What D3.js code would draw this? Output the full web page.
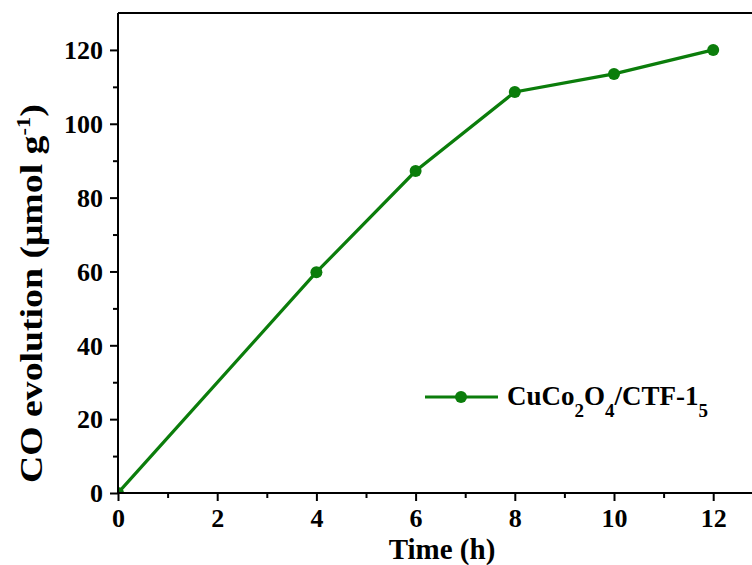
<!DOCTYPE html>
<html>
<head>
<meta charset="utf-8">
<script src="https://cdn.jsdelivr.net/npm/d3@7"></script>
<style>
  body { margin: 0; background: #fff; }
  text { font-family: "Liberation Serif", "Times New Roman", serif; font-weight: bold; }
  .axis text { font-size: 26px; }
</style>
</head>
<body>
<svg id="chart"></svg>
<script>
// CO evolution over time
const times = [0, 4, 6, 8, 10, 12];
const coValues = [0, 59.8, 87.2, 108.6, 113.5, 120];
const xTicks = [0, 2, 4, 6, 8, 10, 12];
const xMinor = [1, 3, 5, 7, 9, 11];
const yTicks = [0, 20, 40, 60, 80, 100, 120];
const yMinor = [10, 30, 50, 70, 90, 110];

const width = 752, height = 565;
const margin = { left: 118, top: 13, bottom: 72 };
const green = '#0b7d0b';

const svg = d3.select('#chart')
    .attr('width', width)
    .attr('height', height);

// scales
const x = d3.scaleLinear().domain([0, 13]).range([margin.left, margin.left + 13 * 49.6]);
const y = d3.scaleLinear().domain([0, 130]).range([height - margin.bottom, margin.top]);

// clip marks to plot area
svg.append('clipPath').attr('id', 'plot')
    .append('rect')
    .attr('x', x(0)).attr('y', y(130))
    .attr('width', x(13) - x(0)).attr('height', y(0) - y(130));

// data line
const line = d3.line()
    .x((d, i) => x(times[i]))
    .y(d => y(d));

const marks = svg.append('g').attr('clip-path', 'url(#plot)');
marks.append('path')
    .datum(coValues)
    .attr('fill', 'none')
    .attr('stroke', green)
    .attr('stroke-width', 3.2)
    .attr('d', line);

marks.selectAll('.dot')
    .data(coValues)
    .enter()
    .append('circle')
    .attr('class', 'dot')
    .attr('cx', (d, i) => x(times[i]))
    .attr('cy', d => y(d))
    .attr('r', 6)
    .attr('fill', green);

// x axis (major + minor ticks)
const xAxis = svg.append('g')
    .attr('class', 'axis')
    .attr('transform', `translate(0,${y(0)})`)
    .call(d3.axisBottom(x).tickValues(xTicks).tickSize(8).tickPadding(8).tickSizeOuter(0));
svg.append('g')
    .attr('transform', `translate(0,${y(0)})`)
    .call(d3.axisBottom(x).tickValues(xMinor).tickSize(5).tickFormat('').tickSizeOuter(0))
    .select('.domain').remove();

// y axis
const yAxis = svg.append('g')
    .attr('class', 'axis')
    .attr('transform', `translate(${x(0)},0)`)
    .call(d3.axisLeft(y).tickValues(yTicks).tickSize(8).tickPadding(7).tickSizeOuter(0));
svg.append('g')
    .attr('transform', `translate(${x(0)},0)`)
    .call(d3.axisLeft(y).tickValues(yMinor).tickSize(5).tickFormat('').tickSizeOuter(0))
    .select('.domain').remove();

xAxis.attr('font-size', 26).attr('font-family', null);
yAxis.attr('font-size', 26).attr('font-family', null);

// top frame line
svg.append('line')
    .attr('x1', x(0)).attr('x2', x(13))
    .attr('y1', y(130)).attr('y2', y(130))
    .attr('stroke', '#000').attr('stroke-width', 2);

svg.selectAll('.domain').attr('stroke-width', 2);
svg.selectAll('.tick line').attr('stroke-width', 2);
svg.selectAll('.axis .tick text').attr('fill', '#000');
yAxis.selectAll('.tick text').attr('dy', '0.34em');
yAxis.select('.domain').attr('d', `M0,${y(0)}V${y(130)}`);
xAxis.select('.domain').attr('d', `M${x(0)},0H${x(13)}`);

// legend
const legend = svg.append('g').attr('transform', 'translate(425,397)');
legend.append('line')
    .attr('x1', 0).attr('x2', 73)
    .attr('stroke', green).attr('stroke-width', 3.2);
legend.append('circle')
    .attr('cx', 36).attr('r', 6).attr('fill', green);
const lt = legend.append('text')
    .attr('x', 82).attr('y', 8)
    .style('font-size', '27px');
lt.append('tspan').text('CuCo');
lt.append('tspan').text('2').attr('dy', 12).style('font-size', '19px');
lt.append('tspan').text('O').attr('dy', -12);
lt.append('tspan').text('4').attr('dy', 12).style('font-size', '19px');
lt.append('tspan').text('/CTF-1').attr('dy', -12);
lt.append('tspan').text('5').attr('dy', 12).style('font-size', '19px');

// axis titles
svg.append('text')
    .attr('x', 442).attr('y', 559)
    .attr('text-anchor', 'middle')
    .style('font-size', '29px')
    .text('Time (h)');

const yt = svg.append('text')
    .attr('transform', `translate(42,483) rotate(-90) scale(1.18,1)`)
    .attr('text-anchor', 'start')
    .style('font-size', '32px');
yt.append('tspan').text('CO evolution (\u03bcmol g');
yt.append('tspan').text('-1').attr('dy', -12).style('font-size', '19px');
yt.append('tspan').text(')').attr('dy', 12);
</script>
</body>
</html>
